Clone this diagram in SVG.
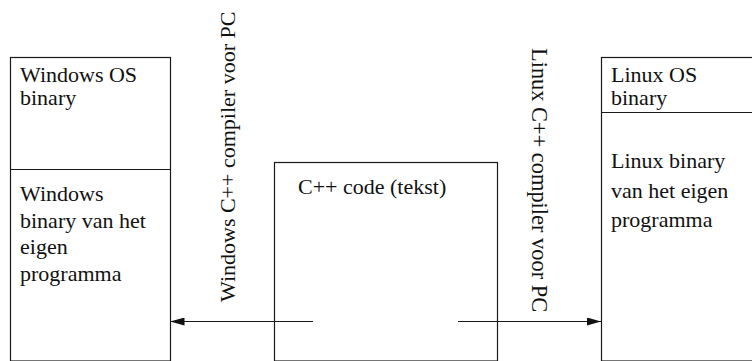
<svg xmlns="http://www.w3.org/2000/svg" width="752" height="361" viewBox="0 0 752 361">
<defs>
<style>
.box{fill:none;stroke:#1a1a1a;stroke-width:1.2}
.lbl{font-family:"Liberation Serif","Times New Roman",serif;font-size:22px;fill:#111}
.con{stroke:#1a1a1a;stroke-width:1.2;fill:none}
</style>
<marker id="ah" viewBox="0 0 14 8" refX="14" refY="4" markerWidth="14" markerHeight="8" markerUnits="userSpaceOnUse" orient="auto">
<path d="M0,0 L14,4 L0,8 Z" fill="#111"/>
</marker>
</defs>
<rect width="752" height="361" fill="#fff"/>
<g id="windows">
<rect class="box" x="10.5" y="57.5" width="160" height="303.5"/>
<line class="box" x1="10.5" y1="169.5" x2="170.5" y2="169.5"/>
<text class="lbl" x="20" y="82">Windows OS</text>
<text class="lbl" x="20" y="105">binary</text>
<text class="lbl" x="20" y="201">Windows</text>
<text class="lbl" x="20" y="227.5">binary van het</text>
<text class="lbl" x="20" y="254">eigen</text>
<text class="lbl" x="20" y="280.5">programma</text>
</g>
<g id="code">
<rect class="box" x="274.5" y="162.5" width="223" height="198.5"/>
<text class="lbl" x="298" y="194">C++ code (tekst)</text>
</g>
<g id="linux">
<rect class="box" x="601.5" y="57.5" width="160" height="303.5"/>
<line class="box" x1="601.5" y1="112.5" x2="752" y2="112.5"/>
<text class="lbl" x="611" y="82">Linux OS</text>
<text class="lbl" x="611" y="105">binary</text>
<text class="lbl" x="611" y="168">Linux binary</text>
<text class="lbl" x="611" y="197.5">van het eigen</text>
<text class="lbl" x="611" y="227">programma</text>
</g>
<g id="connectors">
<line class="con" x1="313" y1="321.5" x2="170.5" y2="321.5" marker-end="url(#ah)"/>
<line class="con" x1="458" y1="321.5" x2="601" y2="321.5" marker-end="url(#ah)"/>
<text class="lbl" transform="translate(235,302) rotate(-90)">Windows C++ compiler voor PC</text>
<text class="lbl" style="font-size:22.4px" transform="translate(532,48) rotate(90)">Linux C++ compiler voor PC</text>
</g>
</svg>
